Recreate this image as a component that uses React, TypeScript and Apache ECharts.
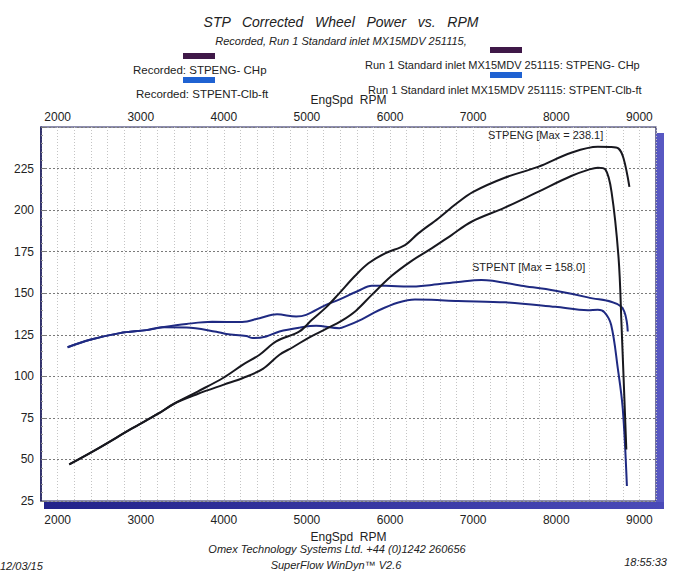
import React, { useEffect, useRef } from "react";
import * as echarts from "echarts";

// ---- Data ----
const rpmRecPower = [2140, 2500, 2890, 3210, 3400, 3690, 3990, 4230, 4430, 4630, 4910, 5060, 5230, 5380, 5580, 5740, 5940, 6180, 6340, 6580, 6800, 7000, 7380, 7780, 8180, 8500, 8650, 8750, 8810, 8880];
const recPower = [47, 57, 68.5, 77.5, 83.5, 91, 99, 107, 113, 121, 127, 134, 141.5, 149.5, 160.5, 168, 174, 179, 186, 195, 204, 211, 219.5, 226, 234.5, 238.1, 238, 237, 231, 214];

const rpmRunPower = [2140, 2500, 2890, 3210, 3400, 3690, 4000, 4230, 4470, 4670, 4830, 5030, 5230, 5420, 5590, 5780, 6020, 6260, 6500, 6740, 6980, 7380, 7780, 8180, 8400, 8500, 8590, 8665, 8750, 8785, 8843];
const runPower = [47, 57, 68.5, 77.5, 83.5, 89.5, 95, 99, 104.5, 113, 117.5, 123.5, 128.5, 133.5, 139.5, 149, 160.5, 169.5, 177, 185, 193, 201.5, 211, 220.5, 224.5, 225.5, 224.5, 211, 171, 131, 56];

const rpmRecTorque = [2120, 2390, 2750, 3070, 3260, 3550, 3860, 4220, 4430, 4640, 4870, 4990, 5230, 5380, 5620, 5780, 5950, 6220, 6500, 6820, 7100, 7580, 7990, 8380, 8780, 8860];
const recTorque = [117.5, 122, 126, 127.8, 129.5, 131.5, 132.8, 132.7, 135, 137.3, 136, 137, 143, 146, 151.5, 154.5, 154.5, 154, 155, 156.8, 158.0, 154.5, 151.5, 147.5, 142, 127];

const rpmRunTorque = [2120, 2390, 2750, 3070, 3260, 3550, 3910, 4030, 4270, 4350, 4510, 4670, 4910, 5110, 5390, 5470, 5660, 5860, 6100, 6300, 6500, 6820, 7390, 7990, 8380, 8500, 8580, 8660, 8740, 8800, 8850];
const runTorque = [117.5, 122, 126, 127.8, 129.5, 129.4, 126.8, 125.5, 124.2, 123, 124, 127, 129.3, 130.4, 129, 130.2, 134.3, 139.6, 144.4, 146.2, 146, 145.3, 144.5, 141.8, 139.8, 140, 138.5, 131, 105, 80.6, 34];

const xTickLabels = [2000, 3000, 4000, 5000, 6000, 7000, 8000, 9000];

const FONT = '"Liberation Sans", Arial, Helvetica, sans-serif';
const POWER_COLOR = "#18181f";
const TORQUE_COLOR = "#1f2a82";
const LEG_PURPLE = "#3f1848";
const LEG_BLUE = "#1f62d2";

function pairs(xs: number[], ys: number[]) {
  return xs.map((x, i) => [x, ys[i]]);
}

export default function App() {
  const ref = useRef<HTMLDivElement>(null);
  useEffect(() => {
    document.body.style.margin = "0";
    if (!ref.current) return;
    const chart = echarts.init(ref.current, undefined, { renderer: "svg" });
    const labelFmt = (v: number) => (xTickLabels.includes(v) ? String(v) : "");
    const txt = (text: string, x: number, y: number, size: number, align: string, italic = false, color = "#222") => ({
      type: "text",
      x,
      y,
      silent: true,
      style: {
        text,
        fill: color,
        font: `${italic ? "italic " : ""}${size}px ${FONT}`,
        textAlign: align,
        textVerticalAlign: "middle",
      },
    });
    const line = (name: string, data: number[][], color: string) => ({
      name,
      type: "line",
      data,
      showSymbol: false,
      smooth: 0.35,
      lineStyle: { color, width: 2 },
      z: 3,
    });
    chart.setOption({
      animation: false,
      backgroundColor: "#ffffff",
      grid: {
        left: 41,
        right: 37,
        top: 127,
        bottom: 78,
        show: true,
        borderColor: "#1c1c5c",
        borderWidth: 1.2,
        backgroundColor: "transparent",
      },
      xAxis: [
        {
          type: "value",
          position: "bottom",
          min: 1800,
          max: 9200,
          interval: 200,
          axisLine: { show: false },
          axisTick: { show: false },
          axisLabel: { formatter: labelFmt, color: "#222", fontSize: 12, fontFamily: FONT, margin: 13 },
          splitLine: { show: true, lineStyle: { color: "#c4c4c4", type: [1, 2], width: 1 } },
          name: "EngSpd  RPM",
          nameLocation: "middle",
          nameGap: 29,
          nameTextStyle: { color: "#222", fontSize: 12, fontFamily: FONT },
        },
        {
          type: "value",
          position: "top",
          min: 1800,
          max: 9200,
          interval: 200,
          axisLine: { show: false },
          axisTick: { show: false },
          axisLabel: { formatter: labelFmt, color: "#222", fontSize: 12, fontFamily: FONT, margin: 4 },
          splitLine: { show: false },
          name: "EngSpd  RPM",
          nameLocation: "middle",
          nameGap: 15,
          nameTextStyle: { color: "#222", fontSize: 12, fontFamily: FONT },
        },
      ],
      yAxis: {
        type: "value",
        min: 25,
        max: 250,
        interval: 25,
        axisLine: { show: true, lineStyle: { color: "#1c1c5c", width: 1.5 } },
        axisTick: { show: true, inside: true, length: 4, lineStyle: { color: "#777" } },
        minorTick: { show: true, splitNumber: 5, length: 2, lineStyle: { color: "#999" } },
        axisLabel: { showMaxLabel: false, color: "#222", fontSize: 12, fontFamily: FONT, margin: 7 },
        splitLine: { show: true, lineStyle: { color: "#7a7a7a", type: [2, 2], width: 1 } },
      },
      series: [
        line("Recorded: STPENT-Clb-ft", pairs(rpmRecTorque, recTorque), TORQUE_COLOR),
        line("Run 1 Standard inlet MX15MDV 251115: STPENT-Clb-ft", pairs(rpmRunTorque, runTorque), TORQUE_COLOR),
        line("Recorded: STPENG- CHp", pairs(rpmRecPower, recPower), POWER_COLOR),
        line("Run 1 Standard inlet MX15MDV 251115: STPENG- CHp", pairs(rpmRunPower, runPower), POWER_COLOR),
      ],
      graphic: [
        {
          type: "rect",
          shape: { x: 656, y: 133, width: 8, height: 376 },
          style: { fill: "#5858c2" },
          silent: true,
        },
        {
          type: "rect",
          shape: { x: 44, y: 502, width: 620, height: 7 },
          style: {
            fill: new echarts.graphic.LinearGradient(0, 0, 1, 0, [
              { offset: 0, color: "#22228a" },
              { offset: 1, color: "#4a4ab8" },
            ]),
          },
          silent: true,
        },
        txt("STP   Corrected   Wheel   Power   vs.   RPM", 341, 22, 14, "center", true),
        txt("Recorded, Run 1 Standard inlet MX15MDV 251115,", 341, 41, 11, "center", true),
        { type: "rect", shape: { x: 183, y: 53, width: 32, height: 6 }, style: { fill: LEG_PURPLE }, silent: true },
        txt("Recorded: STPENG- CHp", 133, 70, 11.5, "left"),
        { type: "rect", shape: { x: 183, y: 77, width: 32, height: 6 }, style: { fill: LEG_BLUE }, silent: true },
        txt("Recorded: STPENT-Clb-ft", 136, 94, 11.5, "left"),
        { type: "rect", shape: { x: 490, y: 47, width: 32, height: 6 }, style: { fill: LEG_PURPLE }, silent: true },
        txt("Run 1 Standard inlet MX15MDV 251115: STPENG- CHp", 365, 65, 11, "left"),
        { type: "rect", shape: { x: 490, y: 72, width: 32, height: 6 }, style: { fill: LEG_BLUE }, silent: true },
        txt("Run 1 Standard inlet MX15MDV 251115: STPENT-Clb-ft", 368, 90, 11, "left"),
        txt("STPENG [Max = 238.1]", 488, 135, 11, "left"),
        txt("STPENT [Max = 158.0]", 472, 267, 11, "left"),
        txt("Omex Technology Systems Ltd. +44 (0)1242 260656", 337, 549, 11, "center", true),
        txt("SuperFlow WinDyn\u2122 V2.6", 336, 565, 11, "center", true),
        txt("12/03/15", 0, 566, 11, "left", true),
        txt("18:55:33", 667, 562, 11, "right", true),
      ],
    });
    return () => chart.dispose();
  }, []);
  return <div ref={ref} style={{ width: 693, height: 579 }} />;
}
